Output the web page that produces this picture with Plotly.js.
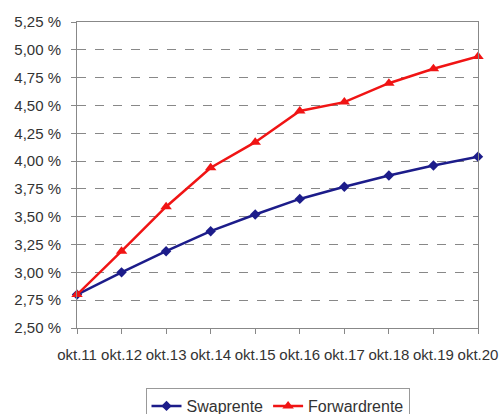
<!DOCTYPE html>
<html>
<head>
<meta charset="utf-8">
<script src="https://cdn.plot.ly/plotly-3.0.1.min.js"></script>
<style>
html,body{margin:0;padding:0;background:#fff;}
#chart{width:499px;height:414px;}
</style>
</head>
<body>
<div id="chart"></div>
<script>
const categories = ["okt.11","okt.12","okt.13","okt.14","okt.15","okt.16","okt.17","okt.18","okt.19","okt.20"];
const swaprente = [2.80, 3.00, 3.19, 3.37, 3.52, 3.66, 3.77, 3.87, 3.96, 4.04];
const forwardrente = [2.80, 3.19, 3.59, 3.94, 4.17, 4.45, 4.53, 4.70, 4.83, 4.94];
const yTickValues = [2.50, 2.75, 3.00, 3.25, 3.50, 3.75, 4.00, 4.25, 4.50, 4.75, 5.00, 5.25];
const yTickLabels = ["2,50 %","2,75 %","3,00 %","3,25 %","3,50 %","3,75 %","4,00 %","4,25 %","4,50 %","4,75 %","5,00 %","5,25 %"];

const font = {family: "Liberation Sans, Arial, sans-serif", size: 15, color: "#333"};
const legendFont = {family: "Liberation Sans, Arial, sans-serif", size: 16, color: "#333"};

const traces = [
  {
    x: categories, y: swaprente, name: "Swaprente", type: "scatter", mode: "lines+markers",
    line: {color: "#1c1c8a", width: 2.5},
    marker: {symbol: "diamond", size: 8, color: "#1c1c8a"},
    cliponaxis: false
  },
  {
    x: categories, y: forwardrente, name: "Forwardrente", type: "scatter", mode: "lines+markers",
    line: {color: "#f01414", width: 2.5},
    marker: {symbol: "triangle-up", size: 10, color: "#f01414"},
    cliponaxis: false
  }
];

const layout = {
  width: 499, height: 414,
  margin: {l: 77, r: 21, t: 22, b: 86, autoexpand: false},
  paper_bgcolor: "#fff", plot_bgcolor: "#fff",
  font: font,
  showlegend: true,
  legend: {
    orientation: "h", x: 0.5, xanchor: "center", y: -0.196, yanchor: "top",
    bordercolor: "#999", borderwidth: 1, font: legendFont, itemwidth: 30,
    tracegroupgap: 0
  },
  xaxis: {
    type: "category", range: [0, 9],
    showgrid: false, zeroline: false,
    showline: true, linecolor: "#888", linewidth: 1, mirror: true,
    ticks: "outside", ticklen: 5, tickcolor: "#888",
    tickfont: font, ticklabelstandoff: 8, automargin: false
  },
  yaxis: {
    range: [2.5, 5.25],
    tickvals: yTickValues, ticktext: yTickLabels,
    showgrid: true, gridcolor: "#888", griddash: "dash", gridwidth: 1,
    zeroline: false,
    showline: true, linecolor: "#888", linewidth: 1, mirror: true,
    ticks: "outside", ticklen: 5, tickcolor: "#888",
    tickfont: font, ticklabelstandoff: 7, automargin: false
  }
};

Plotly.newPlot("chart", traces, layout, {displayModeBar: false, staticPlot: true});
</script>
</body>
</html>
